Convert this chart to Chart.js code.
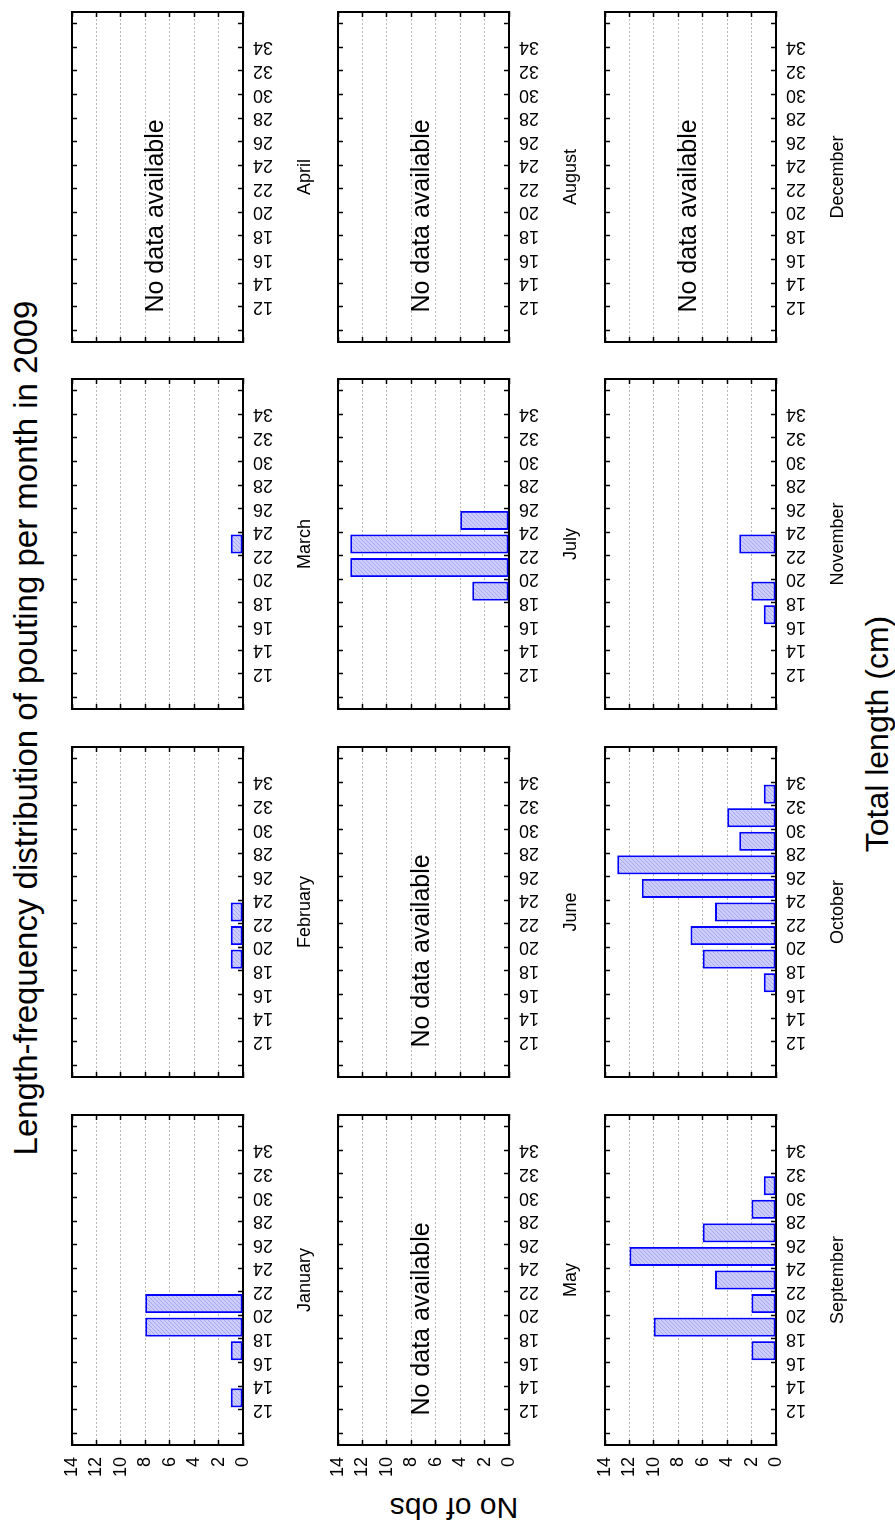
<!DOCTYPE html>
<html>
<head>
<meta charset="utf-8">
<script src="https://cdn.jsdelivr.net/npm/chart.js@4.4.0/dist/chart.umd.min.js"></script>
<style>
html, body { margin: 0; padding: 0; background: #fff; overflow: hidden; }
body { width: 895px; height: 1524px; position: relative; }
#land {
  position: absolute; left: 0; top: 0; width: 1524px; height: 895px;
  transform-origin: 0 0; transform: translateY(1524px) rotate(-90deg);
  font-family: "Liberation Sans", Arial, sans-serif; color: #000;
}
.panel { position: absolute; }
.txt { position: absolute; white-space: nowrap; line-height: 1; }
#title { font-size: 33px; left: 796px; top: 9px; transform: translateX(-50%); }
#xlab { font-size: 32px; left: 790px; top: 861px; transform: translateX(-50%); }
#ylab { font-size: 30px; left: 16px; top: 454px; transform: translate(-50%, -50%) rotate(-90deg); }
</style>
</head>
<body>
<div id="land">
  <div id="title" class="txt">Length-frequency distribution of pouting per month in 2009</div>
  <div id="ylab" class="txt">No of obs</div>
  <div id="xlab" class="txt">Total length (cm)</div>
</div>
<script>
// ---- data ----
const months = ['January', 'February', 'March', 'April', 'May', 'June',
                'July', 'August', 'September', 'October', 'November', 'December'];
const binCenters = [13, 15, 17, 19, 21, 23, 25, 27, 29, 31, 33];   // 2 cm bins 12-34
const lengthTicks = [10, 12, 14, 16, 18, 20, 22, 24, 26, 28, 30, 32, 34, 36];
const lengthLabels = [12, 14, 16, 18, 20, 22, 24, 26, 28, 30, 32, 34];
const countTicks = [0, 2, 4, 6, 8, 10, 12, 14];

const january   = [1, 0, 1, 8, 8, 0, 0, 0, 0, 0, 0];
const february  = [0, 0, 0, 1, 1, 1, 0, 0, 0, 0, 0];
const march     = [0, 0, 0, 0, 0, 1, 0, 0, 0, 0, 0];
const april     = null;
const may       = null;
const june      = null;
const july      = [0, 0, 0, 3, 13, 13, 4, 0, 0, 0, 0];
const august    = null;
const september = [0, 0, 2, 10, 2, 5, 12, 6, 2, 1, 0];
const october   = [0, 0, 1, 6, 7, 5, 11, 13, 3, 4, 1];
const november  = [0, 0, 1, 2, 0, 3, 0, 0, 0, 0, 0];
const december  = null;
const monthValues = [january, february, march, april, may, june,
                     july, august, september, october, november, december];
const noDataText = 'No data available';

// ---- layout (landscape frame, rotated by CSS) ----
const colLeft = [79, 447, 815, 1182];
const rowTop = [72, 338, 605];
const plotW = 330, plotH = 171;
const padL = 60, padR = 45, padT = 35, padB = 90;
const FAM = '"Liberation Sans", Arial, sans-serif';

Chart.defaults.font.family = FAM;
Chart.defaults.color = '#000';

function hatch() {
  const c = document.createElement('canvas');
  c.width = 4; c.height = 4;
  const g = c.getContext('2d');
  g.fillStyle = '#cdcdff';
  g.fillRect(0, 0, 4, 4);
  g.strokeStyle = '#a6a6f2';
  g.lineWidth = 1;
  g.beginPath(); g.moveTo(-1, 5); g.lineTo(5, -1); g.stroke();
  return g.createPattern(c, 'repeat');
}
const barFill = hatch();

const noDataPlugin = {
  id: 'noData',
  afterDraw(chart, args, opts) {
    if (!opts || !opts.show) return;
    const { ctx } = chart;
    const xs = chart.scales.x, ys = chart.scales.y;
    ctx.save();
    ctx.font = '25px ' + FAM;
    ctx.fillStyle = '#000';
    ctx.textAlign = 'left';
    ctx.textBaseline = 'alphabetic';
    ctx.fillText(opts.text, xs.getPixelForValue(opts.atLength), ys.getPixelForValue(opts.atCount));
    ctx.restore();
  }
};

const land = document.getElementById('land');
const tickMark = { tickLength: -5, tickColor: '#000', tickWidth: 1.5 };

months.forEach((month, m) => {
  const r = Math.floor(m / 4), c = m % 4;
  const div = document.createElement('div');
  div.className = 'panel';
  div.style.left = (colLeft[c] - padL) + 'px';
  div.style.top = (rowTop[r] - padT) + 'px';
  const cv = document.createElement('canvas');
  cv.width = padL + plotW + padR;
  cv.height = padT + plotH + padB;
  div.appendChild(cv);
  land.appendChild(div);

  const vals = monthValues[m];
  const data = vals ? binCenters.map((x, i) => ({ x: x, y: vals[i] })) : [];

  new Chart(cv, {
    type: 'bar',
    data: {
      datasets: [{
        data: data,
        backgroundColor: barFill,
        borderColor: '#0000ff',
        borderWidth: 2,
        borderSkipped: false,
        barPercentage: 0.81,
        categoryPercentage: 1.0,
        xAxisID: 'x',
        yAxisID: 'y'
      }]
    },
    options: {
      responsive: false,
      animation: false,
      events: [],
      devicePixelRatio: 1,
      layout: { padding: 0 },
      plugins: {
        legend: { display: false },
        tooltip: { enabled: false },
        noData: { show: !vals, text: noDataText, atLength: 11.5, atCount: 6.55 }
      },
      scales: {
        x: {
          type: 'linear', axis: 'x', position: 'bottom', min: 9, max: 37, offset: false,
          afterBuildTicks: s => { s.ticks = lengthTicks.map(v => ({ value: v })); },
          afterFit: s => { s.height = padB; },
          ticks: {
            autoSkip: false, minRotation: 90, maxRotation: 90, padding: 15,
            color: '#000', font: { size: 18, family: FAM },
            callback: v => lengthLabels.includes(v) ? String(v) : ''
          },
          grid: Object.assign({ display: true, offset: false, drawOnChartArea: false, drawTicks: true }, tickMark),
          border: { display: true, color: '#000', width: 2 },
          title: {
            display: true, text: month, color: '#000',
            font: { size: 18, family: FAM }, padding: { top: 0, bottom: 17 }
          }
        },
        xTop: {
          type: 'linear', axis: 'x', position: 'top', min: 9, max: 37, offset: false,
          afterBuildTicks: s => { s.ticks = lengthTicks.map(v => ({ value: v })); },
          afterFit: s => { s.height = padT; },
          ticks: { display: false },
          grid: Object.assign({ display: true, offset: false, drawOnChartArea: false, drawTicks: true }, tickMark),
          border: { display: true, color: '#000', width: 2 }
        },
        y: {
          type: 'linear', axis: 'y', position: 'left', min: 0, max: 14,
          afterBuildTicks: s => { s.ticks = countTicks.map(v => ({ value: v })); },
          afterFit: s => { s.width = padL; },
          ticks: { display: c === 0, autoSkip: false, padding: 17, color: '#000', font: { size: 18, family: FAM } },
          grid: Object.assign({
            display: true, drawOnChartArea: true, drawTicks: true, lineWidth: 1,
            color: ctx => (ctx.tick && ctx.tick.value > 0 && ctx.tick.value < 14) ? '#b8b8b8' : 'rgba(0,0,0,0)'
          }, tickMark),
          border: { display: true, color: '#000', width: 2, dash: [2, 2] }
        },
        yRight: {
          type: 'linear', axis: 'y', position: 'right', min: 0, max: 14,
          afterBuildTicks: s => { s.ticks = countTicks.map(v => ({ value: v })); },
          afterFit: s => { s.width = padR; },
          ticks: { display: false },
          grid: Object.assign({ display: true, drawOnChartArea: false, drawTicks: true }, tickMark),
          border: { display: true, color: '#000', width: 2 }
        }
      }
    },
    plugins: [noDataPlugin]
  });
});
</script>
</body>
</html>
